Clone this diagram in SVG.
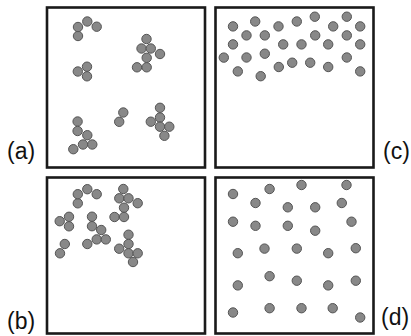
<svg xmlns="http://www.w3.org/2000/svg" width="411" height="336" viewBox="0 0 411 336">
<style>
.box{fill:#fff;stroke:#1a1a1a;stroke-width:2.6}
.p{fill:#888;stroke:#555;stroke-width:1}
.lbl{font-family:"Liberation Sans",Arial,sans-serif;font-size:23px;fill:#111}
</style>
<rect width="411" height="336" fill="#fff"/>
<g id="panel-a">
<rect class="box" x="47" y="7.5" width="158" height="160"/>
<g>
<circle class="p" cx="78" cy="36" r="4.7"/><circle class="p" cx="78" cy="27" r="4.7"/><circle class="p" cx="87.3" cy="21.5" r="4.7"/><circle class="p" cx="96.7" cy="26.7" r="4.7"/>
<circle class="p" cx="146.5" cy="39" r="4.7"/><circle class="p" cx="141.5" cy="48.5" r="4.7"/><circle class="p" cx="150.8" cy="48.5" r="4.7"/><circle class="p" cx="160" cy="54" r="4.7"/><circle class="p" cx="146.7" cy="57.8" r="4.7"/><circle class="p" cx="137" cy="67.3" r="4.7"/><circle class="p" cx="146.7" cy="67.3" r="4.7"/>
<circle class="p" cx="77.8" cy="71.5" r="4.7"/><circle class="p" cx="87" cy="66.7" r="4.7"/><circle class="p" cx="87" cy="76.3" r="4.7"/>
<circle class="p" cx="77.6" cy="121.5" r="4.7"/><circle class="p" cx="77.6" cy="131" r="4.7"/><circle class="p" cx="87.3" cy="135.2" r="4.7"/><circle class="p" cx="83" cy="144.5" r="4.7"/><circle class="p" cx="92.3" cy="144.5" r="4.7"/><circle class="p" cx="73.3" cy="149.2" r="4.7"/>
<circle class="p" cx="123.3" cy="112.5" r="4.7"/><circle class="p" cx="119.2" cy="121.8" r="4.7"/>
<circle class="p" cx="160" cy="107.8" r="4.7"/><circle class="p" cx="160" cy="117.5" r="4.7"/><circle class="p" cx="150.8" cy="121.7" r="4.7"/><circle class="p" cx="160" cy="126.7" r="4.7"/><circle class="p" cx="169.3" cy="126.7" r="4.7"/><circle class="p" cx="164.4" cy="135.8" r="4.7"/>
</g>
<text class="lbl" x="7" y="159">(a)</text>
</g>
<g id="panel-c">
<rect class="box" x="215.5" y="7.5" width="158" height="160"/>
<g>
<circle class="p" cx="233" cy="26.4" r="4.7"/><circle class="p" cx="255.2" cy="21.5" r="4.7"/><circle class="p" cx="278.5" cy="26.4" r="4.7"/><circle class="p" cx="296.8" cy="21.5" r="4.7"/><circle class="p" cx="314.8" cy="16.7" r="4.7"/><circle class="p" cx="333.2" cy="26.4" r="4.7"/><circle class="p" cx="346.8" cy="16.7" r="4.7"/><circle class="p" cx="360.2" cy="26.4" r="4.7"/>
<circle class="p" cx="246.5" cy="35.4" r="4.7"/><circle class="p" cx="264.8" cy="35.4" r="4.7"/><circle class="p" cx="315.2" cy="35.4" r="4.7"/><circle class="p" cx="346.8" cy="35.4" r="4.7"/>
<circle class="p" cx="233" cy="44.4" r="4.7"/><circle class="p" cx="283.2" cy="44.4" r="4.7"/><circle class="p" cx="301.5" cy="44.4" r="4.7"/><circle class="p" cx="328.2" cy="44.4" r="4.7"/><circle class="p" cx="360.2" cy="44.4" r="4.7"/>
<circle class="p" cx="223.8" cy="57.6" r="4.7"/><circle class="p" cx="246.5" cy="57.5" r="4.7"/><circle class="p" cx="264.8" cy="53.7" r="4.7"/><circle class="p" cx="346.8" cy="57.5" r="4.7"/>
<circle class="p" cx="292.2" cy="62.7" r="4.7"/><circle class="p" cx="310.2" cy="62.7" r="4.7"/><circle class="p" cx="278.8" cy="67" r="4.7"/><circle class="p" cx="328.2" cy="67" r="4.7"/>
<circle class="p" cx="237.8" cy="71.4" r="4.7"/><circle class="p" cx="260.7" cy="76.2" r="4.7"/><circle class="p" cx="360.2" cy="71.4" r="4.7"/>
</g>
<text class="lbl" x="383" y="159">(c)</text>
</g>
<g id="panel-b">
<rect class="box" x="47" y="177.5" width="158" height="156"/>
<g>
<circle class="p" cx="77.8" cy="203.3" r="4.7"/><circle class="p" cx="77.8" cy="194.2" r="4.7"/><circle class="p" cx="87.3" cy="189.2" r="4.7"/><circle class="p" cx="96.7" cy="194.2" r="4.7"/>
<circle class="p" cx="123.3" cy="189" r="4.7"/><circle class="p" cx="119.3" cy="198.3" r="4.7"/><circle class="p" cx="128.5" cy="198.3" r="4.7"/><circle class="p" cx="137.7" cy="203.2" r="4.7"/><circle class="p" cx="124" cy="207.7" r="4.7"/><circle class="p" cx="114.5" cy="217" r="4.7"/><circle class="p" cx="124" cy="217" r="4.7"/>
<circle class="p" cx="59.7" cy="221.2" r="4.7"/><circle class="p" cx="69" cy="216.8" r="4.7"/><circle class="p" cx="69" cy="226.3" r="4.7"/>
<circle class="p" cx="92" cy="216.7" r="4.7"/><circle class="p" cx="92" cy="226.2" r="4.7"/><circle class="p" cx="101.2" cy="230" r="4.7"/><circle class="p" cx="96.7" cy="239.4" r="4.7"/><circle class="p" cx="105.8" cy="239.4" r="4.7"/><circle class="p" cx="87.3" cy="244" r="4.7"/>
<circle class="p" cx="64.8" cy="244" r="4.7"/><circle class="p" cx="60" cy="253.3" r="4.7"/>
<circle class="p" cx="128.5" cy="234.7" r="4.7"/><circle class="p" cx="128.5" cy="244" r="4.7"/><circle class="p" cx="119.2" cy="248.7" r="4.7"/><circle class="p" cx="128.5" cy="253.3" r="4.7"/><circle class="p" cx="137.7" cy="253.3" r="4.7"/><circle class="p" cx="133" cy="262" r="4.7"/>
</g>
<text class="lbl" x="7" y="329">(b)</text>
</g>
<g id="panel-d">
<rect class="box" x="215.5" y="177.5" width="158" height="156"/>
<g>
<circle class="p" cx="233" cy="194" r="4.7"/><circle class="p" cx="269.6" cy="189" r="4.7"/><circle class="p" cx="301.5" cy="185" r="4.7"/><circle class="p" cx="346.5" cy="185" r="4.7"/>
<circle class="p" cx="255.5" cy="203" r="4.7"/><circle class="p" cx="287.8" cy="207.3" r="4.7"/><circle class="p" cx="315.2" cy="207.3" r="4.7"/><circle class="p" cx="341.8" cy="203" r="4.7"/>
<circle class="p" cx="233" cy="221.7" r="4.7"/><circle class="p" cx="255.5" cy="225.8" r="4.7"/><circle class="p" cx="287.8" cy="225.8" r="4.7"/><circle class="p" cx="315.2" cy="230.7" r="4.7"/><circle class="p" cx="351.5" cy="221.7" r="4.7"/>
<circle class="p" cx="237.8" cy="253.2" r="4.7"/><circle class="p" cx="264.5" cy="248.6" r="4.7"/><circle class="p" cx="296.8" cy="248.6" r="4.7"/><circle class="p" cx="328.2" cy="253.2" r="4.7"/><circle class="p" cx="355.8" cy="248.2" r="4.7"/>
<circle class="p" cx="237.8" cy="285.4" r="4.7"/><circle class="p" cx="269.6" cy="276.2" r="4.7"/><circle class="p" cx="296.8" cy="280.7" r="4.7"/><circle class="p" cx="328.2" cy="285.4" r="4.7"/><circle class="p" cx="355.8" cy="280.7" r="4.7"/>
<circle class="p" cx="233" cy="312.5" r="4.7"/><circle class="p" cx="269.6" cy="308.2" r="4.7"/><circle class="p" cx="301.5" cy="308.2" r="4.7"/><circle class="p" cx="332.7" cy="308.2" r="4.7"/><circle class="p" cx="360.2" cy="317.5" r="4.7"/>
</g>
<text class="lbl" x="381" y="325">(d)</text>
</g>
</svg>
